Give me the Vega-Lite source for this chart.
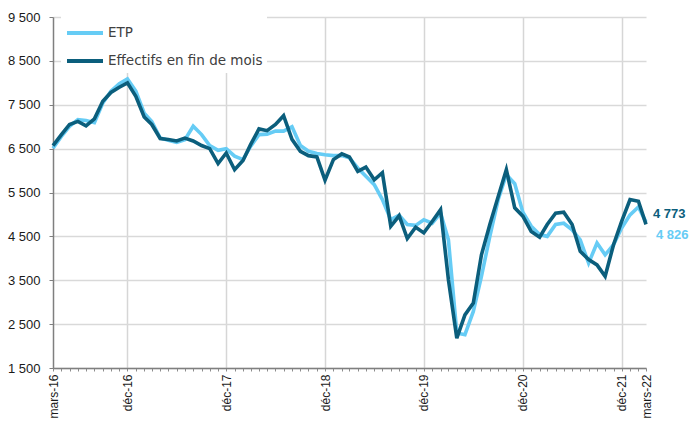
{
  "$schema": "https://vega.github.io/schema/vega-lite/v6.json",
  "width": 593,
  "height": 351,
  "autosize": {"type": "none"},
  "padding": {"left": 53, "top": 17, "right": 43, "bottom": 53},
  "background": "white",
  "config": {
    "view": {"stroke": null},
    "locale": {"number": {"decimal": ",", "thousands": " ", "grouping": [3], "currency": ["", " €"]}},
    "font": "Liberation Sans"
  },
  "data": {
    "values": [
      {"mois": "2016-03-01", "ETP": 6510, "Effectifs en fin de mois": 6570},
      {"mois": "2016-04-01", "ETP": 6780, "Effectifs en fin de mois": 6820},
      {"mois": "2016-05-01", "ETP": 7010, "Effectifs en fin de mois": 7050},
      {"mois": "2016-06-01", "ETP": 7160, "Effectifs en fin de mois": 7120},
      {"mois": "2016-07-01", "ETP": 7140, "Effectifs en fin de mois": 7020},
      {"mois": "2016-08-01", "ETP": 7090, "Effectifs en fin de mois": 7180},
      {"mois": "2016-09-01", "ETP": 7540, "Effectifs en fin de mois": 7580},
      {"mois": "2016-10-01", "ETP": 7810, "Effectifs en fin de mois": 7780},
      {"mois": "2016-11-01", "ETP": 7980, "Effectifs en fin de mois": 7900},
      {"mois": "2016-12-01", "ETP": 8090, "Effectifs en fin de mois": 8000},
      {"mois": "2017-01-01", "ETP": 7810, "Effectifs en fin de mois": 7690},
      {"mois": "2017-02-01", "ETP": 7310, "Effectifs en fin de mois": 7220},
      {"mois": "2017-03-01", "ETP": 7120, "Effectifs en fin de mois": 7050},
      {"mois": "2017-04-01", "ETP": 6740, "Effectifs en fin de mois": 6730},
      {"mois": "2017-05-01", "ETP": 6690, "Effectifs en fin de mois": 6710},
      {"mois": "2017-06-01", "ETP": 6640, "Effectifs en fin de mois": 6675},
      {"mois": "2017-07-01", "ETP": 6700, "Effectifs en fin de mois": 6740},
      {"mois": "2017-08-01", "ETP": 7010, "Effectifs en fin de mois": 6675},
      {"mois": "2017-09-01", "ETP": 6820, "Effectifs en fin de mois": 6570},
      {"mois": "2017-10-01", "ETP": 6570, "Effectifs en fin de mois": 6500},
      {"mois": "2017-11-01", "ETP": 6460, "Effectifs en fin de mois": 6160},
      {"mois": "2017-12-01", "ETP": 6500, "Effectifs en fin de mois": 6400},
      {"mois": "2018-01-01", "ETP": 6330, "Effectifs en fin de mois": 6020},
      {"mois": "2018-02-01", "ETP": 6250, "Effectifs en fin de mois": 6230},
      {"mois": "2018-03-01", "ETP": 6550, "Effectifs en fin de mois": 6590},
      {"mois": "2018-04-01", "ETP": 6820, "Effectifs en fin de mois": 6950},
      {"mois": "2018-05-01", "ETP": 6830, "Effectifs en fin de mois": 6910},
      {"mois": "2018-06-01", "ETP": 6900, "Effectifs en fin de mois": 7050},
      {"mois": "2018-07-01", "ETP": 6900, "Effectifs en fin de mois": 7250},
      {"mois": "2018-08-01", "ETP": 7000, "Effectifs en fin de mois": 6710},
      {"mois": "2018-09-01", "ETP": 6570, "Effectifs en fin de mois": 6440},
      {"mois": "2018-10-01", "ETP": 6440, "Effectifs en fin de mois": 6340},
      {"mois": "2018-11-01", "ETP": 6390, "Effectifs en fin de mois": 6310},
      {"mois": "2018-12-01", "ETP": 6360, "Effectifs en fin de mois": 5780},
      {"mois": "2019-01-01", "ETP": 6340, "Effectifs en fin de mois": 6250},
      {"mois": "2019-02-01", "ETP": 6340, "Effectifs en fin de mois": 6380},
      {"mois": "2019-03-01", "ETP": 6290, "Effectifs en fin de mois": 6310},
      {"mois": "2019-04-01", "ETP": 6060, "Effectifs en fin de mois": 5980},
      {"mois": "2019-05-01", "ETP": 5870, "Effectifs en fin de mois": 6080},
      {"mois": "2019-06-01", "ETP": 5680, "Effectifs en fin de mois": 5790},
      {"mois": "2019-07-01", "ETP": 5340, "Effectifs en fin de mois": 5950},
      {"mois": "2019-08-01", "ETP": 4880, "Effectifs en fin de mois": 4730},
      {"mois": "2019-09-01", "ETP": 4980, "Effectifs en fin de mois": 4970},
      {"mois": "2019-10-01", "ETP": 4770, "Effectifs en fin de mois": 4450},
      {"mois": "2019-11-01", "ETP": 4750, "Effectifs en fin de mois": 4710},
      {"mois": "2019-12-01", "ETP": 4880, "Effectifs en fin de mois": 4580},
      {"mois": "2020-01-01", "ETP": 4800, "Effectifs en fin de mois": 4840},
      {"mois": "2020-02-01", "ETP": 5030, "Effectifs en fin de mois": 5110},
      {"mois": "2020-03-01", "ETP": 4420, "Effectifs en fin de mois": 3510},
      {"mois": "2020-04-01", "ETP": 2300, "Effectifs en fin de mois": 2180},
      {"mois": "2020-05-01", "ETP": 2260, "Effectifs en fin de mois": 2710},
      {"mois": "2020-06-01", "ETP": 2790, "Effectifs en fin de mois": 2980},
      {"mois": "2020-07-01", "ETP": 3590, "Effectifs en fin de mois": 4080},
      {"mois": "2020-08-01", "ETP": 4500, "Effectifs en fin de mois": 4770},
      {"mois": "2020-09-01", "ETP": 5340, "Effectifs en fin de mois": 5410},
      {"mois": "2020-10-01", "ETP": 5910, "Effectifs en fin de mois": 6020},
      {"mois": "2020-11-01", "ETP": 5700, "Effectifs en fin de mois": 5150},
      {"mois": "2020-12-01", "ETP": 5050, "Effectifs en fin de mois": 4960},
      {"mois": "2021-01-01", "ETP": 4730, "Effectifs en fin de mois": 4610},
      {"mois": "2021-02-01", "ETP": 4540, "Effectifs en fin de mois": 4480},
      {"mois": "2021-03-01", "ETP": 4500, "Effectifs en fin de mois": 4770},
      {"mois": "2021-04-01", "ETP": 4770, "Effectifs en fin de mois": 5030},
      {"mois": "2021-05-01", "ETP": 4800, "Effectifs en fin de mois": 5050},
      {"mois": "2021-06-01", "ETP": 4650, "Effectifs en fin de mois": 4770},
      {"mois": "2021-07-01", "ETP": 4420, "Effectifs en fin de mois": 4160},
      {"mois": "2021-08-01", "ETP": 3890, "Effectifs en fin de mois": 3970},
      {"mois": "2021-09-01", "ETP": 4350, "Effectifs en fin de mois": 3850},
      {"mois": "2021-10-01", "ETP": 4080, "Effectifs en fin de mois": 3590},
      {"mois": "2021-11-01", "ETP": 4310, "Effectifs en fin de mois": 4310},
      {"mois": "2021-12-01", "ETP": 4690, "Effectifs en fin de mois": 4840},
      {"mois": "2022-01-01", "ETP": 4990, "Effectifs en fin de mois": 5340},
      {"mois": "2022-02-01", "ETP": 5170, "Effectifs en fin de mois": 5300},
      {"mois": "2022-03-01", "ETP": 4826, "Effectifs en fin de mois": 4773}
    ]
  },
  "transform": [
    {"fold": ["ETP", "Effectifs en fin de mois"], "as": ["serie", "valeur"]}
  ],
  "encoding": {
    "x": {
      "field": "mois",
      "type": "temporal",
      "scale": {
        "type": "utc",
        "nice": false,
        "domain": [
          {"year": 2016, "month": 3, "date": 1, "utc": true},
          {"year": 2022, "month": 3, "date": 1, "utc": true}
        ]
      },
      "axis": {
        "title": null,
        "tickCount": {"interval": "month", "step": 1},
        "labelExpr": "utcmonth(datum.value) == 11 ? 'déc-' + utcFormat(datum.value, '%y') : ((utcmonth(datum.value) == 2 && (utcyear(datum.value) == 2016 || utcyear(datum.value) == 2022)) ? 'mars-' + utcFormat(datum.value, '%y') : '')",
        "labelAngle": -90,
        "labelAlign": "right",
        "labelBaseline": "middle",
        "labelFlush": false,
        "labelOverlap": false,
        "labelBound": false,
        "labelPadding": 3,
        "labelFont": "Liberation Sans",
        "labelFontSize": 12,
        "labelColor": "#1a1a1a",
        "domainColor": "#7f7f7f",
        "domainWidth": 1.5,
        "tickColor": "#8c8c8c",
        "tickSize": 3,
        "tickWidth": 1,
        "grid": true,
        "gridColor": "#d6d6d6",
        "gridWidth": 1.5,
        "gridOpacity": {"condition": {"test": "utcmonth(datum.value) == 11", "value": 1}, "value": 0}
      }
    },
    "y": {
      "field": "valeur",
      "type": "quantitative",
      "scale": {"domain": [1500, 9500], "nice": false, "zero": false},
      "axis": {
        "title": null,
        "values": [1500, 2500, 3500, 4500, 5500, 6500, 7500, 8500, 9500],
        "format": ",d",
        "labelFont": "Liberation Sans",
        "labelFontSize": 13,
        "labelColor": "#1a1a1a",
        "labelPadding": 9,
        "domainColor": "#7f7f7f",
        "domainWidth": 1.5,
        "tickColor": "#7f7f7f",
        "tickSize": 4,
        "grid": true,
        "gridColor": "#d9d9d9",
        "gridWidth": 1.3
      }
    }
  },
  "layer": [
    {
      "mark": {"type": "line", "strokeWidth": 3.6},
      "encoding": {
        "color": {
          "field": "serie",
          "type": "nominal",
          "scale": {"domain": ["ETP", "Effectifs en fin de mois"], "range": ["#66CCF5", "#0B5E7C"]},
          "legend": {
            "title": null,
            "orient": "none",
            "legendX": 8,
            "legendY": -8,
            "fillColor": "white",
            "padding": 4,
            "symbolType": "stroke",
            "symbolStrokeWidth": 4,
            "symbolSize": 1296,
            "rowPadding": -18,
            "labelOffset": 3,
            "labelFont": "DejaVu Sans",
            "labelFontSize": 13.5,
            "labelColor": "#404040",
            "labelLimit": 300
          }
        }
      }
    },
    {
      "transform": [{"filter": "datum.serie == 'Effectifs en fin de mois' && utcyear(datum.mois) == 2022 && utcmonth(datum.mois) == 2"}],
      "mark": {"type": "text", "align": "left", "baseline": "middle", "dx": 7, "dy": -10, "font": "Liberation Sans", "fontWeight": "bold", "fontSize": 13, "color": "#0B5E7C"},
      "encoding": {"text": {"field": "valeur", "type": "quantitative", "format": ","}}
    },
    {
      "transform": [{"filter": "datum.serie == 'ETP' && utcyear(datum.mois) == 2022 && utcmonth(datum.mois) == 2"}],
      "mark": {"type": "text", "align": "left", "baseline": "middle", "dx": 10, "dy": 13, "font": "Liberation Sans", "fontWeight": "bold", "fontSize": 13, "color": "#66CCF5"},
      "encoding": {"text": {"field": "valeur", "type": "quantitative", "format": ","}}
    }
  ]
}
